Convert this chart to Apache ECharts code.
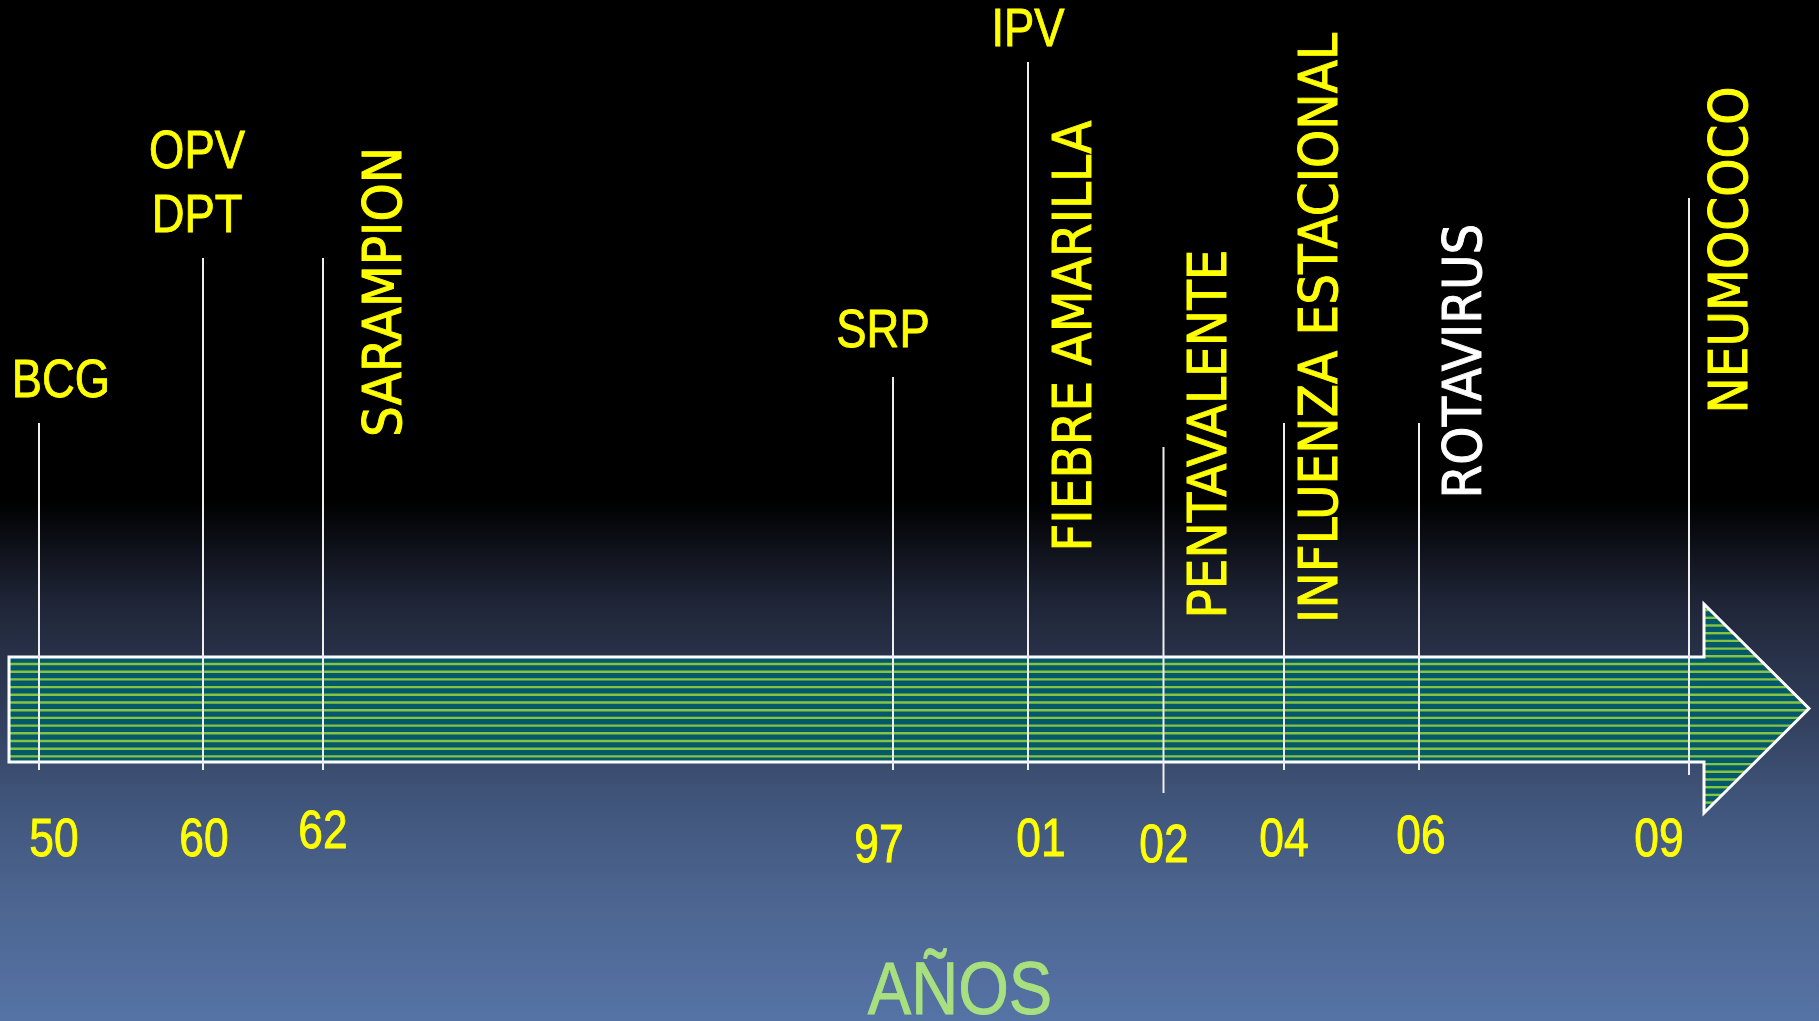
<!DOCTYPE html>
<html>
<head>
<meta charset="utf-8">
<script src="https://cdn.jsdelivr.net/npm/echarts@6/dist/echarts.min.js"></script>
<style>
html, body { margin: 0; padding: 0; background: #000; }
#main { width: 1819px; height: 1021px; }
</style>
</head>
<body>
<div id="main"></div>
<script>
// años sobre la linea de tiempo (posicion en la flecha, en el eje x de la lamina)
const years = ['50', '60', '62', '97', '01', '02', '04', '06', '09'];
const yearPos = [39, 203, 323, 893, 1028, 1163.5, 1284, 1419, 1689];
const lineTop = [423, 258, 258, 377, 62, 447, 423, 423, 198];
const lineBottom = [770, 770, 770, 770, 770, 793, 770, 770, 775];
const yearLabelX = [54, 204, 323, 879, 1041, 1164, 1284, 1421, 1659];
const yearLabelY = [841, 841, 833, 847, 841, 847, 841, 838, 841];

// vacunas introducidas
const vaccines = ['BCG', 'OPV\nDPT', 'SARAMPION', 'SRP', 'IPV', 'FIEBRE AMARILLA', 'PENTAVALENTE', 'INFLUENZA ESTACIONAL', 'ROTAVIRUS', 'NEUMOCOCO'];
const vaccineX = [61, 197, 387, 883, 1028, 1077, 1212, 1323, 1467, 1733];
const vaccineY = [382, 185, 292, 332, 31, 336, 434, 328, 361, 250];
const vaccineVertical = [false, false, true, false, false, true, true, true, true, true];

const YELLOW = '#ffff00';
const narrow = '"Liberation Sans", Arial, sans-serif';
const wide = '"DejaVu Sans Condensed", "DejaVu Sans", sans-serif';

let chart = echarts.init(document.getElementById('main'));

function renderArrow (params, api) {
  const p = (x, y) => api.coord([x, y]);
  // flecha: cuerpo + punta
  const x0 = 9, xh = 1704, xt = 1809;
  const yt = 657, yb = 762, ht = 604, hb = 813, ym = 708.5;
  const outline = [p(x0, yt), p(xh, yt), p(xh, ht), p(xt, ym), p(xh, hb), p(xh, yb), p(x0, yb)];
  const children = [{
    type: 'polygon',
    shape: { points: outline },
    style: { fill: '#03586c' }
  }];
  for (let y = 664 - 7.7 * 7; y < hb - 2; y += 7.7) {
    const start = (y > yt && y < yb) ? x0 : xh;
    const end = xt - Math.abs(y - ym) / (hb - ym) * (xt - xh);
    const a = p(start, y), b = p(end, y);
    children.push({
      type: 'line',
      shape: { x1: a[0], y1: a[1], x2: b[0], y2: b[1] },
      style: { stroke: '#86c440', lineWidth: 2.4 }
    });
  }
  children.push({
    type: 'polygon',
    shape: { points: outline },
    style: { fill: 'none', stroke: '#ffffff', lineWidth: 3, lineJoin: 'miter' }
  });
  return { type: 'group', children: children };
}

function renderTick (params, api) {
  const a = api.coord([api.value(0), api.value(1)]);
  const b = api.coord([api.value(0), api.value(2)]);
  return {
    type: 'line',
    shape: { x1: a[0], y1: a[1], x2: b[0], y2: b[1] },
    style: { stroke: '#eeeeee', lineWidth: 2 }
  };
}

// texto: las etiquetas horizontales usan Arial comprimida (como Arial Narrow)
function makeText (texts, opts) {
  return function (params, api) {
    const pt = api.coord([api.value(0), api.value(1)]);
    const o = opts(params.dataIndex);
    return {
      type: 'text',
      x: pt[0],
      y: pt[1],
      rotation: o.vertical ? Math.PI / 2 : 0,
      scaleX: o.vertical ? 1 : o.squeeze,
      style: {
        text: texts[params.dataIndex],
        fill: o.color,
        stroke: o.color,
        lineWidth: 0.9,
        fontFamily: o.vertical ? wide : narrow,
        fontSize: o.size,
        lineHeight: 64,
        align: 'center',
        verticalAlign: 'middle'
      }
    };
  };
}

chart.setOption({
  animation: false,
  backgroundColor: {
    type: 'linear', x: 0, y: 0, x2: 0, y2: 1,
    colorStops: [
      { offset: 0, color: '#000000' },
      { offset: 0.49, color: '#000000' },
      { offset: 0.59, color: '#1f2537' },
      { offset: 0.69, color: '#2f3c58' },
      { offset: 0.775, color: '#3f5378' },
      { offset: 0.88, color: '#4c6590' },
      { offset: 1, color: '#5673a6' }
    ]
  },
  grid: { left: 0, right: 0, top: 0, bottom: 0 },
  xAxis: { type: 'value', min: 0, max: 1819, show: false },
  yAxis: { type: 'value', min: 0, max: 1021, inverse: true, show: false },
  series: [
    {
      type: 'custom',
      renderItem: renderArrow,
      data: [[0, 0]],
      z: 1,
      silent: true
    },
    {
      type: 'custom',
      renderItem: renderTick,
      data: yearPos.map((x, i) => [x, lineTop[i], lineBottom[i]]),
      z: 2,
      silent: true
    },
    {
      type: 'custom',
      z: 3,
      silent: true,
      data: years.map((y, i) => [yearLabelX[i], yearLabelY[i]]),
      renderItem: makeText(years, () => ({ color: YELLOW, size: 54, squeeze: 0.82 }))
    },
    {
      type: 'custom',
      z: 3,
      silent: true,
      data: vaccines.map((v, i) => [vaccineX[i], vaccineY[i]]),
      renderItem: makeText(vaccines, (i) => ({
        vertical: vaccineVertical[i],
        color: vaccines[i] === 'ROTAVIRUS' ? '#ffffff' : YELLOW,
        size: 54,
        squeeze: 0.84
      }))
    },
    {
      type: 'custom',
      z: 3,
      silent: true,
      data: [[960, 994]],
      renderItem: makeText(['AÑOS'], () => ({ color: '#a9e07f', size: 74, squeeze: 0.88 }))
    }
  ]
});
</script>
</body>
</html>
